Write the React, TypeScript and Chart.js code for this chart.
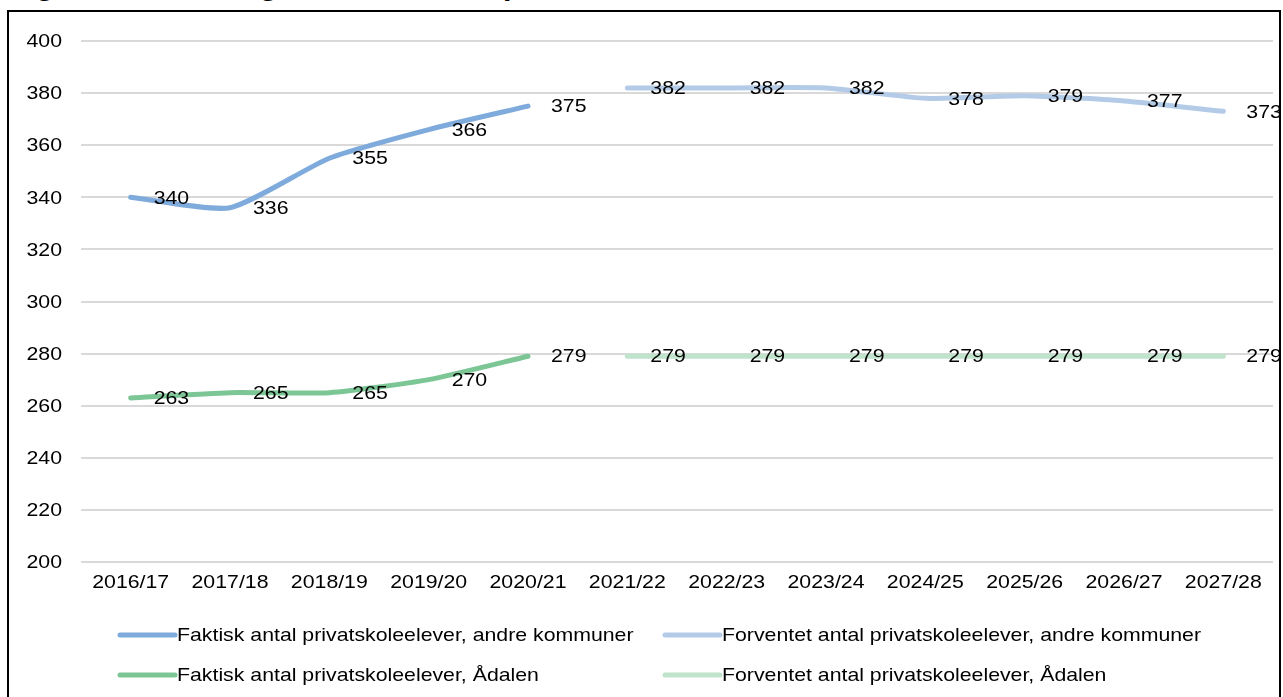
import React, { useEffect, useRef } from "react";
import { Chart, registerables } from "chart.js";

Chart.register(...registerables);

const categories = [
  "2016/17", "2017/18", "2018/19", "2019/20", "2020/21", "2021/22",
  "2022/23", "2023/24", "2024/25", "2025/26", "2026/27", "2027/28",
];
const actualOther = [340, 336, 355, 366, 375, null, null, null, null, null, null, null];
const forecastOther = [null, null, null, null, null, 382, 382, 382, 378, 379, 377, 373];
const actualAadalen = [263, 265, 265, 270, 279, null, null, null, null, null, null, null];
const forecastAadalen = [null, null, null, null, null, 279, 279, 279, 279, 279, 279, 279];
const seriesLabels = [
  "Faktisk antal privatskoleelever, andre kommuner",
  "Forventet antal privatskoleelever, andre kommuner",
  "Faktisk antal privatskoleelever, Ådalen",
  "Forventet antal privatskoleelever, Ådalen",
];
const seriesColors = ["#7eaadc", "#b4cbe8", "#7cc696", "#bfe3cb"];
const titleText = "Figur 3: Faktisk og forventet antal privatskoleelever";

const FONT = "'Liberation Sans', Arial, sans-serif";
const FONT_SIZE = 19;
const SX = 1.12;

function drawText(ctx: CanvasRenderingContext2D, text: string, x: number, y: number, align: CanvasTextAlign) {
  ctx.save();
  ctx.translate(x, y);
  ctx.scale(SX, 1);
  ctx.textAlign = align;
  ctx.fillText(text, 0, 0);
  ctx.restore();
}

const textPlugin = {
  id: "stretchedText",
  afterDatasetsDraw(chart: any) {
    const ctx = chart.ctx as CanvasRenderingContext2D;
    ctx.save();
    ctx.font = `${FONT_SIZE}px ${FONT}`;
    ctx.fillStyle = "#000";
    ctx.textBaseline = "middle";
    // data labels
    chart.data.datasets.forEach((ds: any, i: number) => {
      const meta = chart.getDatasetMeta(i);
      meta.data.forEach((pt: any, j: number) => {
        const v = ds.data[j];
        if (v === null || v === undefined) return;
        drawText(ctx, String(v), pt.x + 23, pt.y + 1, "left");
      });
    });
    // y tick labels
    const ys = chart.scales.y;
    ys.ticks.forEach((t: any, i: number) => {
      drawText(ctx, String(t.value), chart.chartArea.left - 19, ys.getPixelForTick(i) + 1, "right");
    });
    // x tick labels
    const xs = chart.scales.x;
    xs.ticks.forEach((t: any, i: number) => {
      const lbl = String(chart.data.labels[t.value ?? i]);
      drawText(ctx, lbl, xs.getPixelForTick(i), chart.chartArea.bottom + 21, "center");
    });
    ctx.restore();
  },
};

const legendPlugin = {
  id: "customLegend",
  afterDraw(chart: any) {
    const ctx = chart.ctx as CanvasRenderingContext2D;
    const cols = [109, 654];
    const rows = [623, 663];
    ctx.save();
    ctx.font = `${FONT_SIZE}px ${FONT}`;
    ctx.textBaseline = "middle";
    chart.data.datasets.forEach((ds: any, i: number) => {
      const x = cols[i % 2];
      const y = rows[Math.floor(i / 2)];
      ctx.strokeStyle = ds.borderColor;
      ctx.lineWidth = 5;
      ctx.lineCap = "round";
      ctx.beginPath();
      ctx.moveTo(x + 2, y);
      ctx.lineTo(x + 57, y);
      ctx.stroke();
      ctx.fillStyle = "#000";
      drawText(ctx, ds.label, x + 59, y + 1, "left");
    });
    ctx.restore();
  },
};

export default function App() {
  const canvasRef = useRef<HTMLCanvasElement | null>(null);

  useEffect(() => {
    if (!canvasRef.current) return;
    const mk = (label: string, data: (number | null)[], color: string) => ({
      label,
      data,
      borderColor: color,
      backgroundColor: color,
      borderWidth: 5,
      pointRadius: 0,
      pointHoverRadius: 0,
      tension: 0.2,
      borderCapStyle: "round" as const,
      borderJoinStyle: "round" as const,
      spanGaps: false,
      fill: false,
    });
    const chart = new Chart(canvasRef.current, {
      type: "line",
      data: {
        labels: categories,
        datasets: [
          mk(seriesLabels[0], actualOther, seriesColors[0]),
          mk(seriesLabels[1], forecastOther, seriesColors[1]),
          mk(seriesLabels[2], actualAadalen, seriesColors[2]),
          mk(seriesLabels[3], forecastAadalen, seriesColors[3]),
        ],
      },
      options: {
        responsive: false,
        animation: false,
        devicePixelRatio: 1,
        layout: { padding: { left: 0, right: 6, top: 29, bottom: 95 } },
        plugins: {
          legend: { display: false },
          tooltip: { enabled: false },
          title: { display: false },
        },
        scales: {
          x: {
            type: "category",
            offset: true,
            grid: { display: false, drawTicks: false },
            border: { display: false },
            ticks: { display: false, autoSkip: false, maxRotation: 0 },
            afterFit(scale: any) {
              scale.height = 40;
            },
          },
          y: {
            min: 200,
            max: 400,
            grid: { color: "#d9d9d9", lineWidth: 2, drawTicks: false },
            border: { display: false },
            ticks: { stepSize: 20, display: false },
            afterFit(scale: any) {
              scale.width = 72;
            },
          },
        },
      },
      plugins: [textPlugin, legendPlugin],
    });
    return () => chart.destroy();
  }, []);

  return (
    <div
      style={{
        position: "fixed",
        left: 0,
        top: 0,
        width: 1283,
        height: 697,
        overflow: "hidden",
        background: "#fff",
      }}
    >
      <div
        style={{
          position: "absolute",
          left: 9,
          top: -27,
          fontFamily: FONT,
          fontWeight: "bold",
          fontSize: 27,
          lineHeight: "27px",
          whiteSpace: "nowrap",
          color: "#000",
          transform: `scaleX(${SX})`,
          transformOrigin: "left top",
        }}
      >
        {titleText}
      </div>
      <div
        style={{
          position: "absolute",
          left: 7,
          top: 10,
          width: 1270,
          height: 720,
          border: "2px solid #000",
        }}
      />
      <canvas
        ref={canvasRef}
        width={1270}
        height={685}
        style={{ position: "absolute", left: 9, top: 12, width: 1270, height: 685 }}
      />
    </div>
  );
}
